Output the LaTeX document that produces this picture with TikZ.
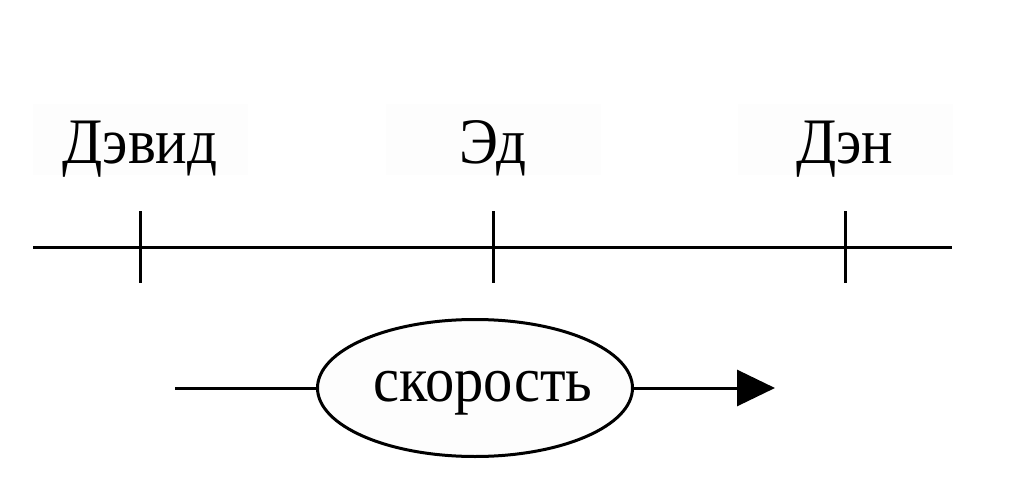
\documentclass[tikz,border=0pt]{standalone}
\usepackage{fontspec}
\setmainfont{Liberation Serif}
\usetikzlibrary{shapes.geometric,arrows.meta}
\definecolor{faint}{HTML}{FDFDFD}
\newcommand{\tallish}[1]{\scalebox{1}[1.1]{#1}}
\tikzset{
  lbl/.style={rectangle, fill=faint, draw=none, inner sep=0pt,
    minimum width=215pt, minimum height=71pt,
    font=\fontsize{59}{61}\selectfont, text height=55pt, text depth=8pt},
  ln/.style={line width=3pt},
  oval/.style={ellipse, draw, line width=3pt, fill=faint, inner sep=0pt,
    minimum width=315pt, minimum height=137pt,
    font=\fontsize{58.5}{61}\selectfont, text height=40pt, text depth=14pt},
}
\begin{document}
\begin{tikzpicture}[x=1pt,y=-1pt]
\useasboundingbox (0,0) rectangle (1010,495);
\node[lbl] (david) at (140,139.5) {\tallish{Дэвид}};
\node[lbl] (ed) at (493,139.5) {\tallish{Эд}};
\node[lbl] (den) at (845,139.5) {\tallish{Дэн}};
\coordinate (l0) at (33,247);
\coordinate (l1) at (952,247);
\draw[ln] (l0) -- (l1);
\foreach \n/\x in {a/140,b/493,c/845}{
  \coordinate (t\n1) at (\x,211);
  \coordinate (t\n2) at (\x,283);
  \draw[ln] (t\n1) -- (t\n2);
}
\node[oval] (speed) at (475,388) {\makebox[200pt]{\hspace{16pt}\tallish{скорость}}};
\coordinate (s0) at (175,388);
\coordinate (s1) at (775,388);
\draw[ln] (s0) -- (speed.west);
\draw[ln,-{Triangle[length=38pt,width=36pt]}] (speed.east) -- (s1);
\end{tikzpicture}
\end{document}
